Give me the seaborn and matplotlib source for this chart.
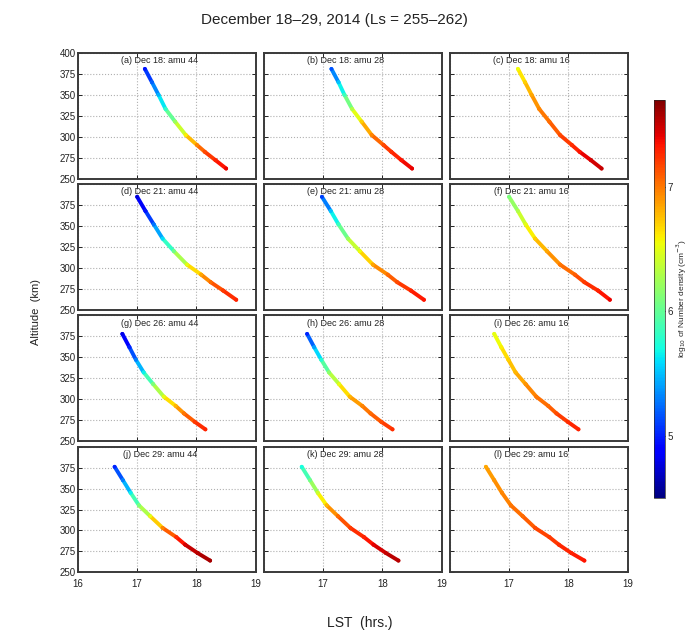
import numpy as np
import pandas as pd
import matplotlib
matplotlib.use("Agg")
import matplotlib.pyplot as plt
import seaborn as sns
from matplotlib.collections import LineCollection
from matplotlib import colors

# ---------------- data ----------------
dates = ["Dec 18", "Dec 21", "Dec 26", "Dec 29"]
masses = [44, 28, 16]
letters = list("abcdefghijkl")

# altitude samples (km) along each profile, per date
alt_dec18 = [381, 365, 350, 333, 318, 302, 290, 282, 272, 262]
alt_dec21 = [385, 368, 352, 335, 320, 304, 292, 283, 273, 262]
alt_dec26 = [378, 362, 347, 332, 318, 303, 292, 283, 273, 264]
alt_dec29 = [376, 360, 345, 330, 317, 303, 292, 283, 273, 264]

# LST (hrs) per panel, columns amu 44, 28, 16
lst_dec18 = [
    [17.13, 17.25, 17.36, 17.48, 17.64, 17.82, 18.01, 18.14, 18.32, 18.50],
    [17.14, 17.26, 17.36, 17.49, 17.65, 17.82, 18.02, 18.15, 18.32, 18.50],
    [17.15, 17.27, 17.38, 17.51, 17.68, 17.86, 18.06, 18.19, 18.38, 18.56],
]
lst_dec21 = [
    [17.00, 17.14, 17.28, 17.43, 17.62, 17.84, 18.08, 18.24, 18.45, 18.67],
    [16.98, 17.13, 17.26, 17.42, 17.62, 17.84, 18.09, 18.25, 18.48, 18.70],
    [17.00, 17.15, 17.28, 17.44, 17.64, 17.86, 18.11, 18.27, 18.50, 18.70],
]
lst_dec26 = [
    [16.75, 16.87, 16.98, 17.11, 17.27, 17.45, 17.65, 17.79, 17.97, 18.15],
    [16.73, 16.85, 16.97, 17.10, 17.27, 17.45, 17.66, 17.80, 17.98, 18.17],
    [16.75, 16.87, 16.99, 17.11, 17.28, 17.46, 17.66, 17.80, 17.99, 18.17],
]
lst_dec29 = [
    [16.62, 16.76, 16.89, 17.03, 17.22, 17.43, 17.66, 17.81, 18.02, 18.23],
    [16.64, 16.78, 16.91, 17.06, 17.25, 17.46, 17.69, 17.85, 18.06, 18.27],
    [16.61, 16.75, 16.88, 17.03, 17.23, 17.44, 17.68, 17.84, 18.05, 18.27],
]

# log10 number density (cm^-3) per panel
dens_dec18 = [
    [4.95, 5.20, 5.45, 5.80, 6.20, 6.60, 6.95, 7.15, 7.30, 7.40],
    [5.15, 5.50, 5.85, 6.30, 6.70, 6.95, 7.15, 7.25, 7.35, 7.40],
    [6.55, 6.70, 6.85, 6.95, 7.05, 7.15, 7.25, 7.35, 7.45, 7.50],
]
dens_dec21 = [
    [4.75, 4.95, 5.25, 5.60, 6.05, 6.50, 6.85, 7.05, 7.20, 7.30],
    [5.10, 5.50, 5.85, 6.20, 6.55, 6.85, 7.05, 7.15, 7.30, 7.35],
    [6.10, 6.30, 6.50, 6.70, 6.85, 7.00, 7.10, 7.20, 7.30, 7.40],
]
dens_dec26 = [
    [4.80, 5.00, 5.30, 5.65, 6.10, 6.50, 6.80, 7.00, 7.20, 7.30],
    [5.00, 5.40, 5.75, 6.15, 6.50, 6.80, 6.95, 7.05, 7.15, 7.25],
    [6.50, 6.60, 6.70, 6.80, 6.90, 7.00, 7.05, 7.15, 7.25, 7.30],
]
dens_dec29 = [
    [5.00, 5.30, 5.65, 6.10, 6.50, 6.95, 7.25, 7.45, 7.55, 7.60],
    [5.70, 6.05, 6.40, 6.80, 7.05, 7.20, 7.30, 7.40, 7.50, 7.55],
    [6.85, 6.90, 6.95, 7.00, 7.05, 7.15, 7.20, 7.25, 7.30, 7.35],
]

alts = [alt_dec18, alt_dec21, alt_dec26, alt_dec29]
lsts = [lst_dec18, lst_dec21, lst_dec26, lst_dec29]
denss = [dens_dec18, dens_dec21, dens_dec26, dens_dec29]

rows = []
for i, d in enumerate(dates):
    for j, m in enumerate(masses):
        for a, l, n in zip(alts[i], lsts[i][j], denss[i][j]):
            rows.append({"date": d, "amu": m, "alt": a, "lst": l, "dens": n})
df = pd.DataFrame(rows)

# ---------------- style ----------------
sns.set_style("ticks")
plt.rcParams["font.family"] = ["Liberation Sans", "DejaVu Sans"]

cmap = matplotlib.colormaps["jet"]
norm = colors.Normalize(vmin=4.5, vmax=7.7)

fig = plt.figure(figsize=(6.89, 6.31), dpi=100)
gs = fig.add_gridspec(4, 3, left=0.113, right=0.911, top=0.916, bottom=0.093,
                      wspace=0.045, hspace=0.045)

yt = [250, 275, 300, 325, 350, 375, 400]
xt = [16, 17, 18, 19]
k = 0
for i, d in enumerate(dates):
    for j, m in enumerate(masses):
        ax = fig.add_subplot(gs[i, j])
        sub = df[(df["date"] == d) & (df["amu"] == m)]
        x = sub["lst"].to_numpy()
        y = sub["alt"].to_numpy()
        c = sub["dens"].to_numpy()
        segs = [[(x[p], y[p]), (x[p + 1], y[p + 1])] for p in range(len(x) - 1)]
        segc = [cmap(norm(0.5 * (c[p] + c[p + 1]))) for p in range(len(x) - 1)]
        ax.add_collection(LineCollection(segs, colors=segc, linewidths=2.8,
                                         capstyle="round", joinstyle="round",
                                         zorder=3))
        sns.scatterplot(data=sub, x="lst", y="alt", hue="dens", palette=cmap,
                        hue_norm=norm, s=8, linewidth=0, legend=False, ax=ax,
                        zorder=4)
        ax.set_xlim(16, 19)
        ax.set_ylim(250, 400)
        ax.set_xticks(xt)
        ax.set_yticks(yt)
        ax.grid(True, ls=":", color="#b0b0b0", lw=0.8)
        ax.tick_params(direction="in", length=3, width=0.7, labelsize=7,
                       top=True, right=True, colors="#222222")
        ax.tick_params(axis="y", pad=1.5)
        ax.tick_params(axis="x", pad=5)
        if j == 0:
            ylabs = [str(v) for v in yt]
            if i > 0:
                ylabs[-1] = ""
            ax.set_yticklabels(ylabs)
        else:
            ax.set_yticklabels([])
        if i == 3:
            xlabs = [str(v) for v in xt]
            if j > 0:
                xlabs[0] = ""
            ax.set_xticklabels(xlabs)
        else:
            ax.set_xticklabels([])
        ax.set_xlabel("")
        ax.set_ylabel("")
        for s in ax.spines.values():
            s.set_linewidth(1.4)
            s.set_color("#3a3a3a")
        ax.text(0.46, 0.975, f"({letters[k]}) {d}: amu {m}",
                transform=ax.transAxes, ha="center", va="top", fontsize=6.5,
                color="#222222", zorder=5)
        k += 1

fig.text(0.485, 0.968, "December 18\u201329, 2014 (Ls = 255\u2013262)",
         ha="center", va="center", fontsize=11, color="#222222")
fig.text(0.052, 0.505, "Altitude  (km)", rotation=90, ha="center",
         va="center", fontsize=8, color="#222222")
fig.text(0.522, 0.012, "LST  (hrs.)", ha="center", va="center", fontsize=10,
         color="#222222")

cax = fig.add_axes([0.949, 1 - 498 / 631, 0.016, 398 / 631])
sm = plt.cm.ScalarMappable(norm=norm, cmap=cmap)
cb = fig.colorbar(sm, cax=cax, ticks=[5, 6, 7])
cb.outline.set_linewidth(0.5)
cb.ax.tick_params(labelsize=7, length=2, direction="in", pad=2)
cb.set_label("log$_{10}$ of Number density (cm$^{-3}$)", fontsize=6,
             labelpad=1)

fig.savefig("out.png", dpi=100)
